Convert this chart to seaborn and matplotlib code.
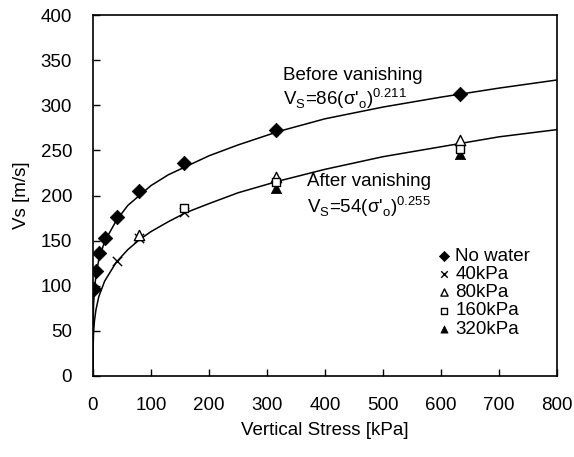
import numpy as np
import pandas as pd
import matplotlib
matplotlib.use("Agg")
import matplotlib.pyplot as plt
import seaborn as sns

# ---- data ----
nowater_x = [2.5, 6, 11, 21, 41, 79, 157, 315, 632]
nowater_v = [96, 116, 136, 153, 176, 205, 236, 273, 312]

w40_x = [41, 79, 157]
w40_v = [127, 153, 182]

w80_x = [79, 315, 632]
w80_v = [156, 221, 262]

w160_x = [157, 315, 632]
w160_v = [186, 215, 252]

w320_x = [315, 632]
w320_v = [208, 246]

# fitted curves as drawn in the picture
before_x = [0, 0.2, 1, 2.5, 5, 10, 20, 40, 60, 80, 100, 130, 160, 200, 250, 320, 400, 500, 600, 700, 800]
before_v = [0, 56, 79, 96, 111, 129, 149, 172, 189, 200, 211, 223, 232, 244, 256, 271, 285, 298, 309, 319, 328]
after_x = [0, 0.2, 1, 2.5, 5, 10, 20, 40, 60, 80, 100, 130, 160, 200, 250, 320, 400, 500, 600, 700, 800]
after_v = [0, 32, 48.5, 61, 73, 88, 105, 126, 140, 151, 160, 171, 181, 191, 203, 216, 229, 243, 254, 265, 273]

x_ticks = [0, 100, 200, 300, 400, 500, 600, 700, 800]
y_ticks = [0, 50, 100, 150, 200, 250, 300, 350, 400]

sns.set_style("ticks")
plt.rcParams['font.family'] = ['Liberation Sans', 'DejaVu Sans']
plt.rcParams['text.color'] = 'black'
plt.rcParams['axes.labelcolor'] = 'black'
plt.rcParams['xtick.color'] = 'black'
plt.rcParams['ytick.color'] = 'black'

fig = plt.figure(figsize=(5.74, 4.57), dpi=100)
ax = fig.add_axes([93/574, 1-376/457, (557-93)/574, (376-15)/457])

sns.lineplot(x=before_x, y=before_v, ax=ax, color="black", lw=1.1, sort=False)
sns.lineplot(x=after_x, y=after_v, ax=ax, color="black", lw=1.1, sort=False)

sns.scatterplot(x=nowater_x, y=nowater_v, ax=ax, marker="D", s=55, color="black",
                edgecolor="black", linewidth=0.5, label="No water", zorder=5)
sns.scatterplot(x=w40_x, y=w40_v, ax=ax, marker="x", s=45, color="black",
                linewidth=1.0, label="40kPa", zorder=5)
sns.scatterplot(x=w80_x, y=w80_v, ax=ax, marker="^", s=55, facecolor="white",
                edgecolor="black", linewidth=1.0, label="80kPa", zorder=5)
sns.scatterplot(x=w160_x, y=w160_v, ax=ax, marker="s", s=40, facecolor="white",
                edgecolor="black", linewidth=1.0, label="160kPa", zorder=6)
sns.scatterplot(x=w320_x, y=w320_v, ax=ax, marker="^", s=55, color="black",
                edgecolor="black", linewidth=0.5, label="320kPa", zorder=4)

ax.set_xlim(0, 800)
ax.set_ylim(0, 400)
ax.set_xticks(x_ticks)
ax.set_yticks(y_ticks)
ax.tick_params(direction="in", length=5, width=1, labelsize=13.5, pad=15, colors="black")
for sp in ax.spines.values():
    sp.set_linewidth(1.2)
    sp.set_color("black")
ax.set_xlabel("Vertical Stress [kPa]", fontsize=13.5, labelpad=6, color="black")
ax.set_ylabel("Vs [m/s]", fontsize=13.5, labelpad=8, color="black")

ax.text(327, 333, "Before vanishing", fontsize=13.5, ha="left", va="center", color="black")
ax.text(327, 307, r"V$_\mathregular{S}$=86($\mathregular{\sigma}$'$_\mathregular{o}$)$^\mathregular{0.211}$",
        fontsize=13.5, ha="left", va="center", color="black")
ax.text(369, 215, "After vanishing", fontsize=13.5, ha="left", va="center", color="black")
ax.text(369, 188, r"V$_\mathregular{S}$=54($\mathregular{\sigma}$'$_\mathregular{o}$)$^\mathregular{0.255}$",
        fontsize=13.5, ha="left", va="center", color="black")

leg = ax.legend(loc="upper left", bbox_to_anchor=(0.72, 0.375), frameon=False,
                fontsize=13.5, handletextpad=0.1, labelspacing=0.05,
                markerscale=0.7, borderaxespad=0, handlelength=1.0, labelcolor="black")

fig.savefig("out.png", dpi=100)
